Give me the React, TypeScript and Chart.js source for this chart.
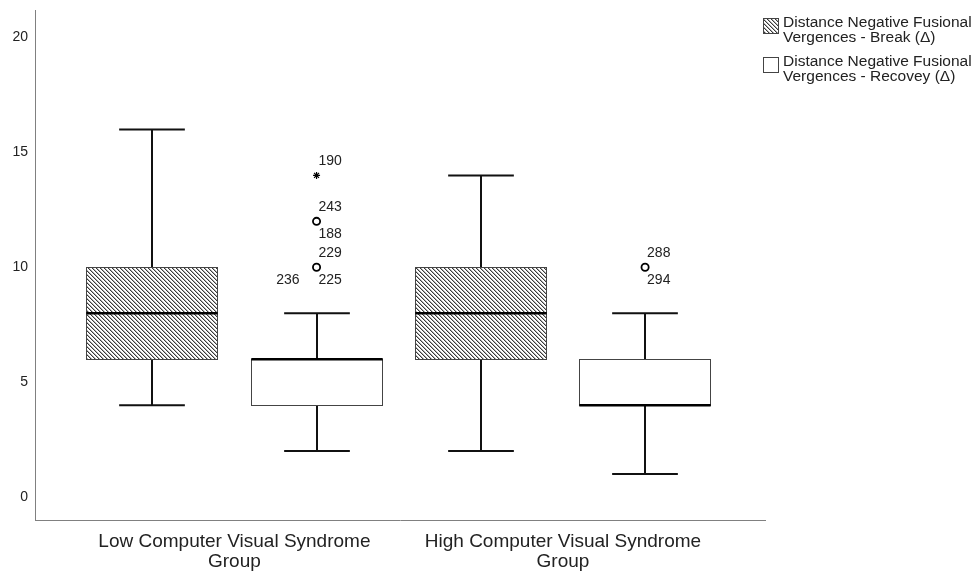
import React, { useEffect, useRef } from "react";
import { Chart, registerables } from "chart.js";

Chart.register(...registerables);

const categories: string[][] = [
  ["Low Computer Visual Syndrome", "Group"],
  ["High Computer Visual Syndrome", "Group"],
];
const yTicks = [0, 5, 10, 15, 20];

const seriesNames: string[][] = [
  ["Distance Negative Fusional", "Vergences - Break (\u0394)"],
  ["Distance Negative Fusional", "Vergences - Recovey (\u0394)"],
];

// Break series
const breakMin = [4, 2];
const breakQ1 = [6, 6];
const breakMedian = [8, 8];
const breakQ3 = [10, 10];
const breakMax = [16, 14];

// Recovery series
const recoveryMin = [2, 1];
const recoveryQ1 = [4, 4];
const recoveryMedian = [6, 4];
const recoveryQ3 = [6, 6];
const recoveryMax = [8, 8];

// outliers (circle) and extremes (star) for the recovery series
const recoveryOutlierCats = [0, 0, 1];
const recoveryOutlierValues = [12, 10, 10];
const recoveryOutlierIds = [["243", "188"], ["229", "236", "225"], ["288", "294"]];
const recoveryExtremeCats = [0];
const recoveryExtremeValues = [14];
const recoveryExtremeIds = [["190"]];

const SERIES_OFFSET = [-0.25, 0.25];
const BOX_HALF = 0.2;
const CAP_HALF = 0.1;
const FONT = "'Liberation Sans', Arial, sans-serif";

function makeHatch(): CanvasPattern | string {
  const c = document.createElement("canvas");
  const s = 4;
  c.width = s;
  c.height = s;
  const g = c.getContext("2d")!;
  g.fillStyle = "#ffffff";
  g.fillRect(0, 0, s, s);
  for (let x = 0; x < s; x++) {
    for (let y = 0; y < s; y++) {
      const d = (((x - y) % s) + s) % s;
      if (d === 0) {
        g.fillStyle = "#3a3a3a";
        g.fillRect(x, y, 1, 1);
      } else if (d === 1) {
        g.fillStyle = "#b0b0b0";
        g.fillRect(x, y, 1, 1);
      }
    }
  }
  const p = g.createPattern(c, "repeat");
  return p || "#888";
}

export default function App() {
  const ref = useRef<HTMLCanvasElement>(null);
  useEffect(() => {
    const canvas = ref.current!;
    const hatch = makeHatch();
    const fills = [hatch, "#ffffff"];
    const stats = [
      { min: breakMin, q1: breakQ1, med: breakMedian, q3: breakQ3, max: breakMax },
      { min: recoveryMin, q1: recoveryQ1, med: recoveryMedian, q3: recoveryQ3, max: recoveryMax },
    ];

    const boxPlugin = {
      id: "boxes",
      beforeDatasetsDraw(chart: any) {
        const { ctx, scales } = chart;
        const x = scales.x;
        const y = scales.y;
        const hw = x.getPixelForValue(BOX_HALF) - x.getPixelForValue(0);
        const cw = x.getPixelForValue(CAP_HALF) - x.getPixelForValue(0);
        ctx.save();
        stats.forEach((st, si) => {
          categories.forEach((_, ci) => {
            const cx = Math.round(x.getPixelForValue(ci + SERIES_OFFSET[si]));
            const yMin = y.getPixelForValue(st.min[ci]);
            const yQ1 = y.getPixelForValue(st.q1[ci]);
            const yMed = y.getPixelForValue(st.med[ci]);
            const yQ3 = y.getPixelForValue(st.q3[ci]);
            const yMax = y.getPixelForValue(st.max[ci]);
            // whiskers
            ctx.strokeStyle = "#111";
            ctx.lineWidth = 2;
            ctx.beginPath();
            ctx.moveTo(cx, yQ3);
            ctx.lineTo(cx, yMax);
            ctx.moveTo(cx, yQ1);
            ctx.lineTo(cx, yMin);
            ctx.moveTo(cx - cw, yMax);
            ctx.lineTo(cx + cw, yMax);
            ctx.moveTo(cx - cw, yMin);
            ctx.lineTo(cx + cw, yMin);
            ctx.stroke();
            // box
            ctx.fillStyle = fills[si];
            ctx.fillRect(cx - hw, yQ3, 2 * hw, yQ1 - yQ3);
            ctx.strokeStyle = "#444";
            ctx.lineWidth = 1;
            ctx.strokeRect(Math.round(cx - hw) + 0.5, Math.round(yQ3) + 0.5, Math.round(2 * hw), Math.round(yQ1 - yQ3));
            // median
            ctx.strokeStyle = "#000";
            ctx.lineWidth = 2.5;
            ctx.beginPath();
            ctx.moveTo(cx - hw, yMed);
            ctx.lineTo(cx + hw, yMed);
            ctx.stroke();
          });
        });
        ctx.restore();
      },
      afterDatasetsDraw(chart: any) {
        const { ctx, scales } = chart;
        const x = scales.x;
        const y = scales.y;
        ctx.save();
        ctx.font = `14px ${FONT}`;
        ctx.fillStyle = "#222";
        ctx.textBaseline = "middle";
        const label = (cat: number, val: number, ids: string[]) => {
          const px = x.getPixelForValue(cat + SERIES_OFFSET[1]);
          const py = y.getPixelForValue(val);
          ids.forEach((id, k) => {
            let tx = px + 2;
            let ty = py - 14;
            let align: CanvasTextAlign = "left";
            if (k === 1 && ids.length === 3) {
              tx = px - 17;
              ty = py + 13;
              align = "right";
            } else if (k >= 1) {
              ty = py + 13;
            }
            ctx.textAlign = align;
            ctx.fillText(id, tx, ty);
          });
        };
        recoveryOutlierCats.forEach((c, i) => label(c, recoveryOutlierValues[i], recoveryOutlierIds[i]));
        recoveryExtremeCats.forEach((c, i) => label(c, recoveryExtremeValues[i], recoveryExtremeIds[i]));

        // legend
        const lx = 763;
        const tops = [18, 57];
        ctx.font = `15.5px ${FONT}`;
        ctx.textAlign = "left";
        seriesNames.forEach((lines, si) => {
          const t = tops[si];
          ctx.fillStyle = fills[si];
          ctx.fillRect(lx, t, 15, 15);
          ctx.strokeStyle = "#444";
          ctx.lineWidth = 1;
          ctx.strokeRect(lx + 0.5, t + 0.5, 15, 15);
          ctx.fillStyle = "#222";
          lines.forEach((ln, li) => ctx.fillText(ln, lx + 20, t + 4.5 + li * 15));
        });
        ctx.restore();
      },
    };

    const chart = new Chart(canvas, {
      type: "scatter",
      data: {
        datasets: [
          {
            label: "outliers",
            data: recoveryOutlierCats.map((c, i) => ({ x: c + SERIES_OFFSET[1], y: recoveryOutlierValues[i] })),
            pointStyle: "circle",
            pointRadius: 3.6,
            borderWidth: 1.8,
            borderColor: "#000",
            backgroundColor: "#fff",
          },
          {
            label: "extremes",
            data: recoveryExtremeCats.map((c, i) => ({ x: c + SERIES_OFFSET[1], y: recoveryExtremeValues[i] })),
            pointStyle: "star",
            pointRadius: 3.5,
            borderWidth: 1.2,
            borderColor: "#000",
            backgroundColor: "#000",
          },
        ],
      },
      options: {
        responsive: false,
        animation: false,
        devicePixelRatio: 1,
        events: [],
        layout: { padding: { top: 10, right: 210, left: 0, bottom: 0 } },
        plugins: { legend: { display: false }, tooltip: { enabled: false } },
        scales: {
          x: {
            type: "linear",
            min: -0.607,
            max: 1.615,
            grid: { display: false, drawTicks: false },
            border: { display: true, color: "#808080", width: 1 },
            afterBuildTicks: (axis: any) => {
              axis.ticks = categories.map((_, i) => ({ value: i }));
            },
            afterFit: (axis: any) => {
              axis.height = 52;
              axis.paddingLeft = 0;
              axis.paddingRight = 0;
            },
            ticks: {
              autoSkip: false,
              maxRotation: 0,
              padding: 12,
              color: "#222",
              font: { size: 19, family: FONT, lineHeight: 1.05 },
              callback: (_v: any, i: number) => categories[i],
            },
          },
          y: {
            min: -1,
            max: 21.2,
            grid: { display: false, drawTicks: false },
            border: { display: true, color: "#808080", width: 1 },
            afterBuildTicks: (axis: any) => {
              axis.ticks = yTicks.map((v) => ({ value: v }));
            },
            afterFit: (axis: any) => {
              axis.width = 35;
              axis.paddingTop = 0;
              axis.paddingBottom = 0;
            },
            ticks: {
              padding: 7,
              color: "#222",
              font: { size: 14, family: FONT },
            },
          },
        },
      },
      plugins: [boxPlugin],
    } as any);
    return () => chart.destroy();
  }, []);

  return (
    <div style={{ position: "fixed", left: 0, top: 0, width: 975, height: 572, background: "#fff" }}>
      <canvas ref={ref} width={975} height={572} />
    </div>
  );
}
